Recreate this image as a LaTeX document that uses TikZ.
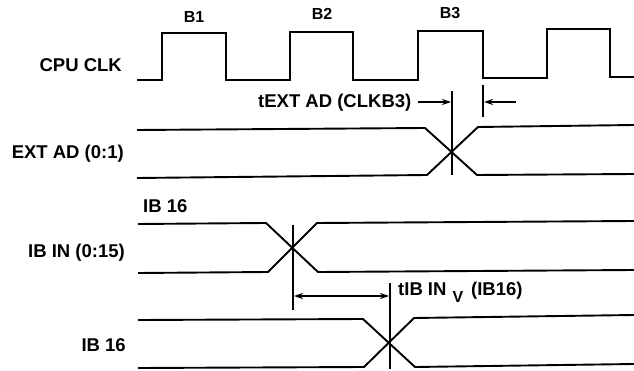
\documentclass[tikz,border=0pt]{standalone}
\usepackage{fontspec}
\setmainfont{Liberation Sans}
\usetikzlibrary{arrows.meta}
\begin{document}
\begin{tikzpicture}[x=1pt,y=-1pt,
  wave/.style={line width=1.9pt,line join=miter},
  guide/.style={line width=1.4pt},
  dim/.style={line width=1.2pt,-{Stealth[length=9pt,width=6pt]}},
  dimboth/.style={line width=1.2pt,{Stealth[length=9pt,width=6pt]}-{Stealth[length=9pt,width=6pt]}},
  lab/.style={inner sep=0pt,font=\fontsize{18.5}{20}\selectfont\bfseries},
  blab/.style={inner sep=0pt,font=\fontsize{16}{18}\selectfont\bfseries}]
\useasboundingbox (0,0) rectangle (634,371);
\fill[white] (0,0) rectangle (634,371);
% signal labels
\node[lab,anchor=base east] (lclk) at (122,72) {CPU CLK};
\node[lab,anchor=base east] (lext) at (124,159) {EXT AD (0:1)};
\node[lab,anchor=base west] (lib16a) at (143,213) {IB 16};
\node[lab,anchor=base east] (libin) at (125,258) {IB IN (0:15)};
\node[lab,anchor=base east] (lib16b) at (126,351) {IB 16};
% clock labels
\node[blab,anchor=base] (b1) at (194,23) {B1};
\node[blab,anchor=base] (b2) at (322,20) {B2};
\node[blab,anchor=base] (b3) at (450,19) {B3};
% CPU CLK
\draw[wave] (137,80) -- (162,80) -- (162,33) -- (226,33) -- (226,80) -- (290,80)
  -- (290,32) -- (353,32) -- (353,80) -- (418,80) -- (418,31) -- (483,31)
  -- (483,78) -- (547,78) -- (547,29) -- (610,29) -- (610,77) -- (634,77);
% EXT AD
\draw[wave] (137,130) -- (425,128) -- (477,175) -- (634,174);
\draw[wave] (137,178) -- (427,175) -- (478,127) -- (634,125);
% IB IN
\draw[wave] (138,224) -- (266,223) -- (318,272) -- (634,270);
\draw[wave] (138,273) -- (268,272) -- (317,223) -- (634,221);
% IB 16
\draw[wave] (138,320) -- (363,319) -- (415,367) -- (634,364);
\draw[wave] (138,368) -- (364,367) -- (414,318) -- (634,315);
% guides
\coordinate (g1t) at (452,91);  \coordinate (g1b) at (452,175);
\coordinate (g2t) at (483,85);  \coordinate (g2b) at (483,117);
\coordinate (g3t) at (293,225); \coordinate (g3b) at (293,310);
\coordinate (g4t) at (390,283); \coordinate (g4b) at (390,369);
\draw[guide] (g1t) -- (g1b);
\draw[guide] (g2t) -- (g2b);
\draw[guide] (g3t) -- (g3b);
\draw[guide] (g4t) -- (g4b);
% tEXT AD
\node[lab,anchor=base west] (text) at (258,108) {tEXT AD (CLKB3)};
\coordinate (a1s) at (418,102); \coordinate (a1e) at (451,102);
\coordinate (a2s) at (516,102); \coordinate (a2e) at (484,102);
\draw[dim] (a1s) -- (a1e);
\draw[dim] (a2s) -- (a2e);
% tIB IN
\coordinate (a3s) at (294,296); \coordinate (a3e) at (389,296);
\draw[dimboth] (a3s) -- (a3e);
\node[lab,anchor=base west] (tib) at (398,295) {tIB IN\hspace{6pt}\raisebox{-7pt}{\fontsize{16}{18}\selectfont V}\hspace{8pt}(IB16)};
\end{tikzpicture}
\end{document}
